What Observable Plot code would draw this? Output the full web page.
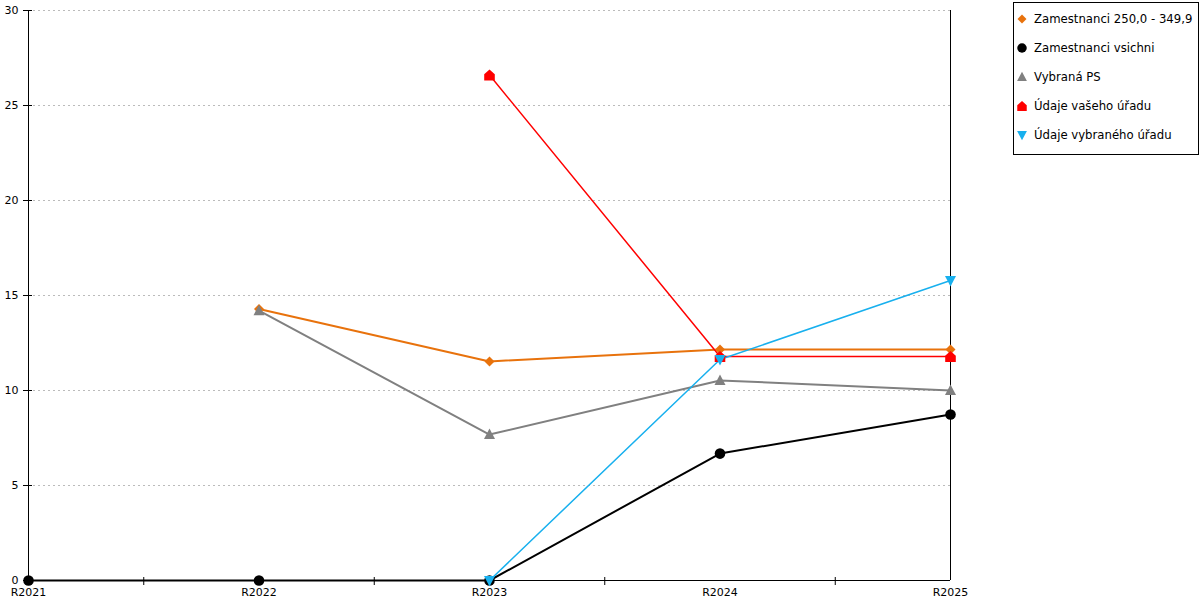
<!DOCTYPE html>
<html>
<head>
<meta charset="utf-8">
<script src="https://cdn.jsdelivr.net/npm/d3@7"></script>
<script src="https://cdn.jsdelivr.net/npm/@observablehq/plot@0.6"></script>
<style>
  body { margin: 0; background: #fff; font-family: "DejaVu Sans", sans-serif; }
  #wrap { position: relative; width: 1200px; height: 600px; }
  #legend { position: absolute; left: 1013px; top: 2px; width: 184px; height: 151px; border: 1px solid #000; background: #fff; }
</style>
</head>
<body>
<div id="wrap"><div id="chart"></div><div id="legend"></div></div>
<script>
const years = ["R2021", "R2022", "R2023", "R2024", "R2025"];
const yTicks = [0, 5, 10, 15, 20, 25, 30];
const seriesNames = ["Zamestnanci 250,0 - 349,9", "Zamestnanci vsichni", "Vybraná PS", "Údaje vašeho úřadu", "Údaje vybraného úřadu"];
const seriesColors = ["#e8720c", "#000000", "#808080", "#ff0000", "#18b0ee"];
const seriesWidths = [2, 2, 2, 1.5, 1.5];
const orangeValues = [null, 14.29, 11.53, 12.16, 12.16];
const blackValues = [0, 0, 0, 6.68, 8.74];
const grayValues = [null, 14.2, 7.68, 10.53, 10.0];
const redValues = [null, null, 26.6, 11.79, 11.79];
const cyanValues = [null, null, 0, 11.63, 15.79];

const sc = size => Math.sqrt(size / Math.PI) / 5;
const diamond = { draw(c, size) { const s = sc(size) * 5; c.moveTo(0, -s); c.lineTo(s, 0); c.lineTo(0, s); c.lineTo(-s, 0); c.closePath(); } };
const circle = { draw(c, size) { const s = sc(size) * 5.3; c.moveTo(s, 0); c.arc(0, 0, s, 0, 2 * Math.PI); c.closePath(); } };
const triUp = { draw(c, size) { const s = sc(size); c.moveTo(0, -6 * s); c.lineTo(5.5 * s, 4.5 * s); c.lineTo(-5.5 * s, 4.5 * s); c.closePath(); } };
const triDown = { draw(c, size) { const s = sc(size); c.moveTo(0, 6 * s); c.lineTo(5.5 * s, -4.5 * s); c.lineTo(-5.5 * s, -4.5 * s); c.closePath(); } };
const house = { draw(c, size) { const s = sc(size); c.moveTo(0, -5.5 * s); c.lineTo(5.3 * s, -0.8 * s); c.lineTo(5.3 * s, 5.5 * s); c.lineTo(-5.3 * s, 5.5 * s); c.lineTo(-5.3 * s, -0.8 * s); c.closePath(); } };
const seriesSymbols = [diamond, circle, triUp, house, triDown];
const seriesValues = [orangeValues, blackValues, grayValues, redValues, cyanValues];

const data = [];
seriesValues.forEach((vals, si) => vals.forEach((v, i) => { if (v != null) data.push({ s: si, x: i, y: v }); }));

const marks = [
  Plot.ruleY(yTicks.filter(d => d > 0), { stroke: "#bbb", strokeDasharray: "2,3", strokeWidth: 1 }),
  Plot.ruleX([0, years.length - 1], { stroke: "#000", strokeWidth: 1 }),
  Plot.ruleY([0], { stroke: "#000", strokeWidth: 1 }),
  Plot.axisY({ ticks: yTicks, tickSize: 9, dx: 4, text: null, stroke: "#000" }),
  Plot.axisY({ ticks: yTicks, tickSize: 0, tickPadding: 10, tickFormat: d => String(d), fill: "#000" }),
  Plot.axisX({ ticks: [0.5, 1.5, 2.5, 3.5], tickSize: 8, dy: -3, text: null, stroke: "#000" }),
  Plot.axisX({ ticks: years.map((d, i) => i), tickSize: 0, tickPadding: 8, tickFormat: i => years[i], fill: "#000" })
];
seriesValues.forEach((vals, si) => {
  const d = data.filter(p => p.s === si);
  marks.push(Plot.line(d, { x: "x", y: "y", stroke: seriesColors[si], strokeWidth: seriesWidths[si] }));
});
seriesValues.forEach((vals, si) => {
  const d = data.filter(p => p.s === si);
  marks.push(Plot.dot(d, { x: "x", y: "y", r: 5, symbol: seriesSymbols[si], fill: seriesColors[si], stroke: "none" }));
});

const chart = Plot.plot({
  width: 1200, height: 600,
  marginLeft: 28, marginRight: 250, marginTop: 10, marginBottom: 20,
  style: { fontFamily: "DejaVu Sans", fontSize: "11px", color: "#000", background: "#fff", overflow: "visible" },
  x: { type: "linear", domain: [0, years.length - 1], label: null, axis: null },
  y: { domain: [0, 30], label: null, axis: null },
  marks
});
document.getElementById("chart").appendChild(chart);

// legend
const lg = d3.select("#legend").append("svg").attr("width", 184).attr("height", 151)
  .style("font-family", "DejaVu Sans").style("font-size", "11.7px");
seriesNames.forEach((name, i) => {
  const g = lg.append("g").attr("transform", `translate(8,${16 + i * 29})`);
  g.append("path").attr("d", d3.symbol(seriesSymbols[i], 25 * Math.PI * 0.8)()).attr("fill", seriesColors[i]);
  g.append("text").attr("x", 12).attr("dy", "0.35em").attr("fill", "#000").text(name);
});
</script>
</body>
</html>
